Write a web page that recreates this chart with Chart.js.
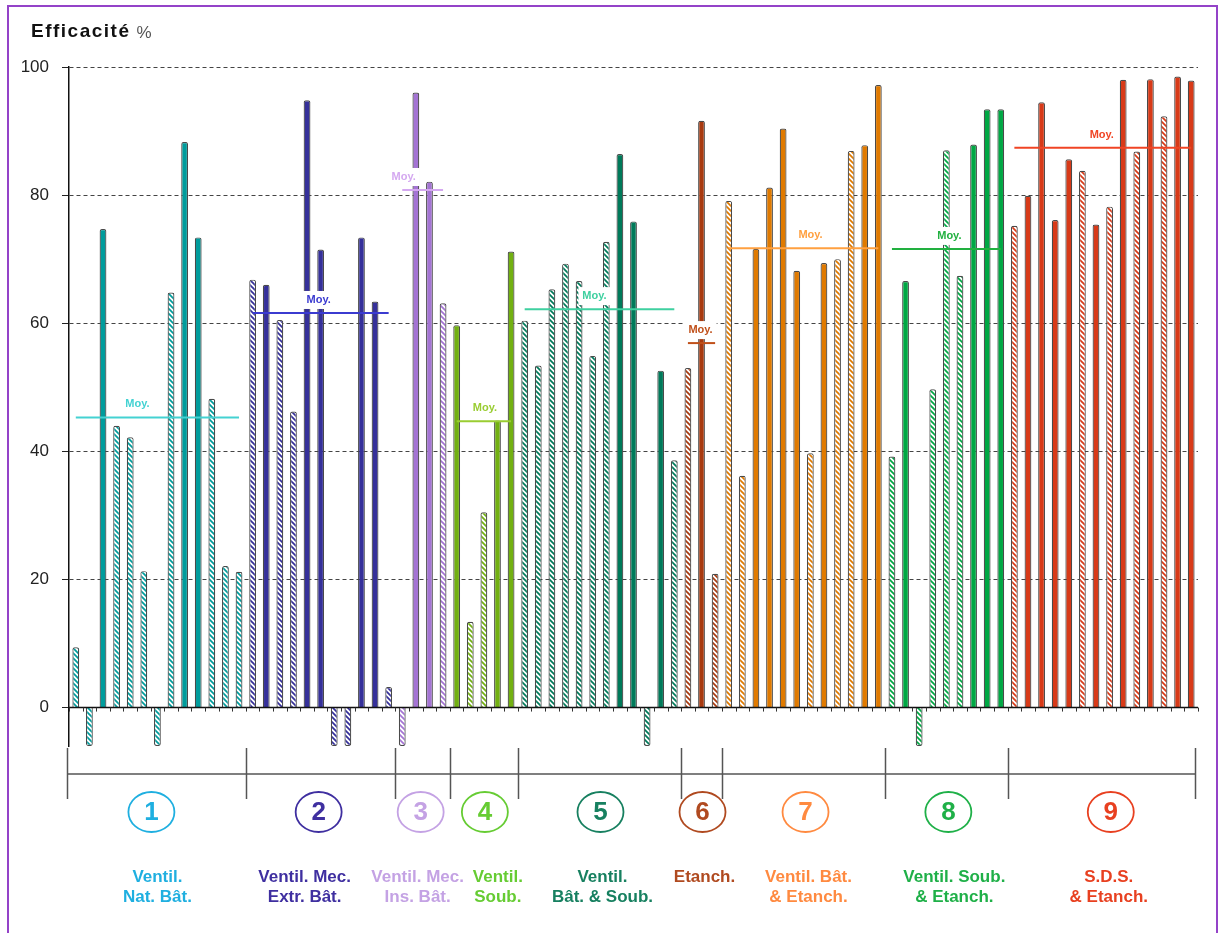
<!DOCTYPE html>
<html lang="fr">
<head>
<meta charset="utf-8">
<title>Efficacité %</title>
<script src="https://cdn.jsdelivr.net/npm/chart.js@4.4.1/dist/chart.umd.min.js"></script>
<style>
  html, body { margin: 0; padding: 0; background: #fff; }
  #wrap { width: 1219px; height: 933px; }
</style>
</head>
<body>
<div id="wrap"><canvas id="efficaciteChart" width="1219" height="933"></canvas></div>
<script>
// valeurs, un tableau par groupe (les valeurs negatives sont coupees a -6)
const groupe1 = [9.4, -6, 74.7, 44, 42.2, 21.3, -6, 64.8, 88.3, 73.4, 48.2, 22.1, 21.2];
const groupe2 = [66.8, 66, 60.5, 46.2, 94.8, 71.5, -6, -6, 73.4, 63.4, 3.2];
const groupe3 = [-6, 96, 82.1, 63.1];
const groupe4 = [59.7, 13.4, 30.5, 44.8, 71.2];
const groupe5 = [60.4, 53.4, 65.3, 69.3, 66.6, 54.9, 72.7, 86.4, 75.9, -6, 52.6, 38.6];
const groupe6 = [53, 91.6, 20.9];
const groupe7 = [79.1, 36.2, 71.6, 81.2, 90.4, 68.2, 39.7, 69.4, 70, 86.9, 87.8, 97.2];
const groupe8 = [39.2, 66.6, -6, 49.7, 87, 67.4, 87.9, 93.4, 93.4];
const groupe9 = [75.2, 79.9, 94.5, 76.1, 85.6, 83.8, 75.4, 78.2, 98, 86.8, 98.1, 92.3, 98.5, 97.9];

// h = barre hachuree, s = barre pleine
const motif1 = "hhshhhhhsshhh";
const motif2 = "hshhsshhssh";
const motif3 = "hssh";
const motif4 = "shhss";
const motif5 = "hhhhhhhsshsh";
const motif6 = "hsh";
const motif7 = "hhsssshshhss";
const motif8 = "hshhhhsss";
const motif9 = "hsssshshshshss";

const moyennes = [45.3, 61.6, 80.8, 44.7, 62.2, 56.9, 71.7, 71.6, 87.4];
const numeros = ["1", "2", "3", "4", "5", "6", "7", "8", "9"];
const libelles = [
    ["Ventil.", "Nat. Bât."],
    ["Ventil. Mec.", "Extr. Bât."],
    ["Ventil. Mec.", "Ins. Bât."],
    ["Ventil.", "Soub."],
    ["Ventil.", "Bât. & Soub."],
    ["Etanch."],
    ["Ventil. Bât.", "& Etanch."],
    ["Ventil. Soub.", "& Etanch."],
    ["S.D.S.", "& Etanch."]
];
const yTicks = [0, 20, 40, 60, 80, 100];

const groupes = [groupe1, groupe2, groupe3, groupe4, groupe5, groupe6, groupe7, groupe8, groupe9];
const motifs = [motif1, motif2, motif3, motif4, motif5, motif6, motif7, motif8, motif9];

// couleurs
const couleursBarres = ['#009c9c', '#35309a', '#a474d4', '#72b012', '#007a5a', '#a83a10', '#e07a00', '#00a844', '#d83a18'];
const couleursMoy = ['#44d2d2', '#3b3bd0', '#d4a8f0', '#9acd32', '#3fd0a0', '#c0501a', '#ffa040', '#22b040', '#f04424'];
const couleursGroupe = ['#1fafe0', '#3f2fa0', '#c4a2e4', '#66cc33', '#178060', '#b04a20', '#ff8a40', '#1fb048', '#e84020'];
const decalMoy = [-20, -2, -19, 1, -5, -1, 7, 3, -1];
const decalCercle = [-6, -2, -2, 1, 1, 1, 2, 2, 8];
const decalTexte = [0, -16, -5, 14, 3, 3, 5, 8, 6];
const POLICE = "'Liberation Sans', Arial, sans-serif";

function makeHatch(color) {
    const c = document.createElement('canvas');
    c.width = 5; c.height = 5;
    const g = c.getContext('2d');
    g.fillStyle = '#ffffff';
    g.fillRect(0, 0, 5, 5);
    g.strokeStyle = color;
    g.lineWidth = 1.7;
    g.beginPath();
    g.moveTo(-1, -1); g.lineTo(6, 6);
    g.moveTo(-1, 4); g.lineTo(1, 6);
    g.moveTo(4, -1); g.lineTo(6, 1);
    g.stroke();
    return g.createPattern(c, 'repeat');
}

// construction des tableaux pour Chart.js
const labels = [];
const valeurs = [];
const fonds = [];
const debuts = [];
groupes.forEach((grp, g) => {
    debuts.push(valeurs.length);
    const hatch = makeHatch(couleursBarres[g]);
    grp.forEach((v, i) => {
        labels.push(numeros[g] + '.' + (i + 1));
        valeurs.push(v);
        fonds.push(motifs[g][i] === 'h' ? hatch : couleursBarres[g]);
    });
});

const datasets = [{
    type: 'bar',
    data: valeurs,
    backgroundColor: fonds,
    borderColor: '#4a4a4a',
    borderWidth: 1.2,
    borderSkipped: 'start',
    borderRadius: 2,
    barPercentage: 0.5,
    categoryPercentage: 1,
    order: 2
}];

groupes.forEach((grp, g) => {
    const ligne = valeurs.map(() => null);
    for (let i = 0; i < grp.length; i++) ligne[debuts[g] + i] = moyennes[g];
    datasets.push({
        type: 'line',
        data: ligne,
        borderColor: couleursMoy[g],
        borderWidth: 2,
        pointRadius: 0,
        spanGaps: false,
        order: 1
    });
});

const decor = {
    id: 'decor',
    beforeDraw(chart) {
        const ctx = chart.ctx;
        ctx.save();
        ctx.fillStyle = '#fff';
        ctx.fillRect(0, 0, chart.width, chart.height);
        ctx.strokeStyle = '#9443c8';
        ctx.lineWidth = 2;
        ctx.strokeRect(8, 6, 1209, 950);
        // titre
        ctx.textBaseline = 'middle';
        ctx.textAlign = 'left';
        ctx.fillStyle = '#111';
        ctx.font = 'bold 19px ' + POLICE;
        ctx.letterSpacing = '1.5px';
        ctx.fillText('Efficacité', 31, 32);
        const w = ctx.measureText('Efficacité').width;
        ctx.letterSpacing = '0px';
        ctx.fillStyle = '#555';
        ctx.font = '17px ' + POLICE;
        ctx.fillText('%', 31 + w + 6, 33);
        ctx.restore();
    },
    afterDatasetsDraw(chart) {
        const ctx = chart.ctx;
        const x = chart.scales.x, y = chart.scales.y;
        const area = chart.chartArea;
        const pas = x.getPixelForValue(1) - x.getPixelForValue(0);
        const y0 = y.getPixelForValue(0);
        ctx.save();
        // ligne du zero avec petites graduations
        ctx.strokeStyle = '#111';
        ctx.lineWidth = 1.5;
        ctx.beginPath();
        ctx.moveTo(area.left, y0);
        ctx.lineTo(area.right, y0);
        ctx.stroke();
        ctx.lineWidth = 1;
        ctx.strokeStyle = '#333';
        ctx.beginPath();
        for (let i = 0; i <= valeurs.length; i++) {
            const px = Math.round(x.getPixelForValue(i) - pas / 2) + 0.5;
            ctx.moveTo(px, y0);
            ctx.lineTo(px, y0 + 4);
        }
        ctx.stroke();
        // etiquettes "Moy."
        ctx.font = 'bold 11px ' + POLICE;
        ctx.textAlign = 'center';
        ctx.textBaseline = 'middle';
        groupes.forEach((grp, g) => {
            const x1 = x.getPixelForValue(debuts[g]);
            const x2 = x.getPixelForValue(debuts[g] + grp.length - 1);
            const cx = (x1 + x2) / 2 + decalMoy[g];
            const cy = y.getPixelForValue(moyennes[g]) - 13;
            const tw = ctx.measureText('Moy.').width;
            ctx.fillStyle = '#fff';
            ctx.fillRect(cx - tw / 2 - 4, cy - 9, tw + 8, 18);
            ctx.fillStyle = couleursMoy[g];
            ctx.fillText('Moy.', cx, cy);
        });
        ctx.restore();
    },
    afterDraw(chart) {
        const ctx = chart.ctx;
        const x = chart.scales.x;
        const pas = x.getPixelForValue(1) - x.getPixelForValue(0);
        const yAxe = 774;
        ctx.save();
        ctx.strokeStyle = '#555';
        ctx.lineWidth = 1.5;
        const gauche = x.getPixelForValue(0) - pas / 2 - 2;
        const droite = x.getPixelForValue(valeurs.length - 1) + pas / 2 - 3;
        ctx.beginPath();
        ctx.moveTo(gauche, yAxe);
        ctx.lineTo(droite, yAxe);
        ctx.stroke();
        // separateurs de groupes
        const bords = [gauche];
        groupes.forEach((grp, g) => {
            if (g > 0) bords.push(x.getPixelForValue(debuts[g]) - pas / 2);
        });
        bords.push(droite);
        ctx.beginPath();
        bords.forEach(b => {
            ctx.moveTo(Math.round(b) + 0.5, 748);
            ctx.lineTo(Math.round(b) + 0.5, 799);
        });
        ctx.stroke();
        // numeros et libelles
        groupes.forEach((grp, g) => {
            const x1 = x.getPixelForValue(debuts[g]) - pas / 2;
            const x2 = x.getPixelForValue(debuts[g] + grp.length - 1) + pas / 2;
            const cx = (x1 + x2) / 2;
            ctx.strokeStyle = couleursGroupe[g];
            ctx.lineWidth = 1.8;
            ctx.beginPath();
            ctx.ellipse(cx + decalCercle[g], 812, 23, 20, 0, 0, Math.PI * 2);
            ctx.stroke();
            ctx.fillStyle = couleursGroupe[g];
            ctx.textAlign = 'center';
            ctx.textBaseline = 'middle';
            ctx.font = 'bold 26px ' + POLICE;
            ctx.fillText(numeros[g], cx + decalCercle[g], 813);
            ctx.font = 'bold 17px ' + POLICE;
            libelles[g].forEach((t, k) => {
                ctx.fillText(t, cx + decalTexte[g], 877 + k * 20);
            });
        });
        ctx.restore();
    }
};

new Chart(document.getElementById('efficaciteChart'), {
    type: 'bar',
    data: { labels: labels, datasets: datasets },
    options: {
        responsive: false,
        animation: false,
        layout: { padding: { left: 0, top: 67, right: 21, bottom: 187 } },
        plugins: {
            legend: { display: false },
            tooltip: { enabled: false }
        },
        scales: {
            x: {
                display: false,
                offset: true
            },
            y: {
                min: -6,
                max: 100,
                afterBuildTicks: scale => { scale.ticks = yTicks.map(v => ({ value: v })); },
                afterFit: scale => { scale.width = 69; },
                ticks: {
                    color: '#222',
                    padding: 13,
                    font: { family: POLICE, size: 17 }
                },
                grid: {
                    color: '#444',
                    lineWidth: 1,
                    tickLength: 7,
                    tickColor: '#222'
                },
                border: { display: true, color: '#111', width: 1.5, dash: [4, 3] }
            }
        }
    },
    plugins: [decor]
});
</script>
</body>
</html>
